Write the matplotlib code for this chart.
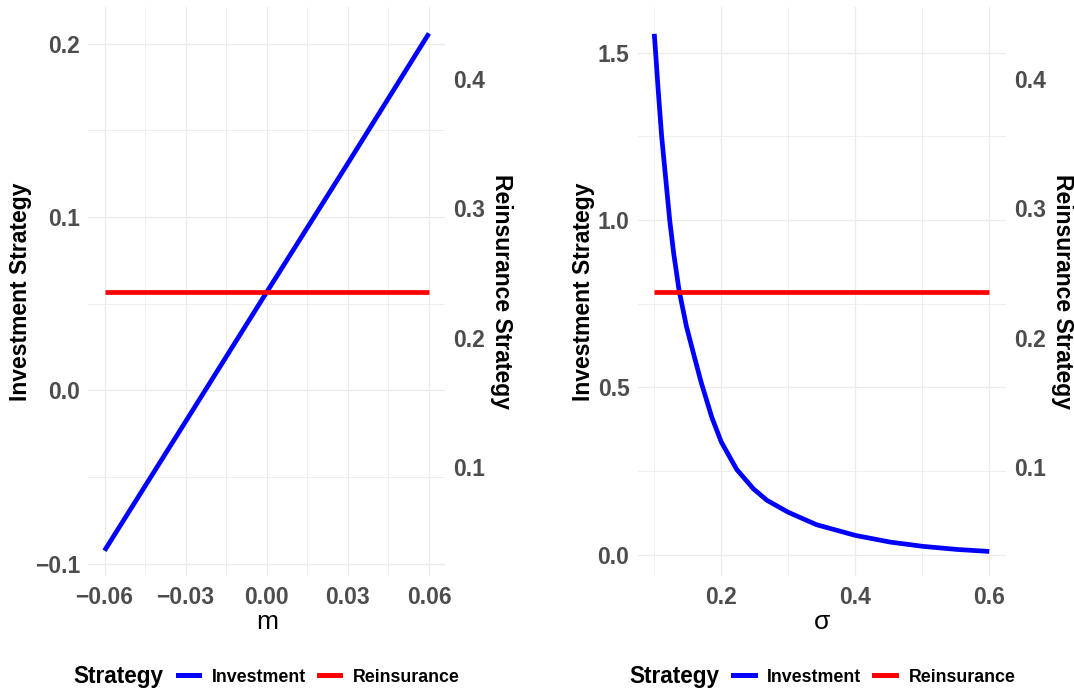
import matplotlib
matplotlib.use('Agg')
import matplotlib.pyplot as plt
from matplotlib.ticker import MultipleLocator
from matplotlib.lines import Line2D

plt.rcParams['font.family'] = ['Liberation Sans', 'DejaVu Sans']

# left panel: strategies against m
m_vals = [-0.06, -0.03, 0.0, 0.03, 0.06]
invest_m = [-0.0925, -0.018, 0.0567, 0.131, 0.206]
reins_m = [0.235, 0.235, 0.235, 0.235, 0.235]

# right panel: strategies against sigma
sigma_vals = [0.100, 0.102, 0.106, 0.111, 0.117, 0.123, 0.129, 0.137, 0.148, 0.160,
              0.170, 0.186, 0.200, 0.223, 0.248, 0.268, 0.300, 0.342, 0.400, 0.452,
              0.502, 0.552, 0.600]
invest_sigma = [1.556, 1.50, 1.384, 1.25, 1.125, 1.00, 0.90, 0.79, 0.682, 0.59,
                0.515, 0.41, 0.337, 0.255, 0.197, 0.163, 0.127, 0.090, 0.058, 0.038,
                0.025, 0.016, 0.010]
reins_sigma = [0.235] * len(sigma_vals)

BLUE = '#0000FF'
RED = '#FF0000'
TICK_COL = '#4D4D4D'
GRID_COL = '#EBEBEB'
LW = 3.4

fig = plt.figure(figsize=(10.74, 6.9), dpi=100)


def style_axes(ax, ax2, xlabel, xmajor, xminor, ymajor, yminor):
    for a in (ax, ax2):
        for s in a.spines.values():
            s.set_visible(False)
    ax.xaxis.set_major_locator(MultipleLocator(xmajor))
    ax.xaxis.set_minor_locator(MultipleLocator(xminor))
    ax.yaxis.set_major_locator(MultipleLocator(ymajor))
    ax.yaxis.set_minor_locator(MultipleLocator(yminor))
    ax.grid(which='major', color=GRID_COL, lw=0.9)
    ax.grid(which='minor', color=GRID_COL, lw=0.6)
    ax.set_axisbelow(True)
    ax.tick_params(which='both', length=0)
    ax.tick_params(axis='x', pad=6.5)
    ax.tick_params(axis='y', pad=5.8)
    ax2.tick_params(which='both', length=0, pad=5.6)
    for lab in ax.get_xticklabels() + ax.get_yticklabels() + ax2.get_yticklabels():
        lab.set_fontsize(16.5)
        lab.set_fontweight('bold')
        lab.set_color(TICK_COL)
    ax.set_xlabel(xlabel, fontsize=19, labelpad=1)
    ax.set_ylabel('Investment Strategy', fontsize=16.5, fontweight='bold', labelpad=1.8)
    ax2.set_ylabel('Reinsurance Strategy', fontsize=16.5, fontweight='bold',
                   rotation=-90, labelpad=20)
    ax2.set_ylim(0.0152, 0.4554)
    ax2.yaxis.set_major_locator(MultipleLocator(0.1))


# left panel
ax1 = fig.add_axes([0.0822, 0.1645, 0.3323, 0.8248])
ax1.plot(m_vals, invest_m, color=BLUE, lw=LW, solid_capstyle='butt')
ax1.set_xlim(-0.066, 0.066)
ax1.set_ylim(-0.1074, 0.221)
ax1b = ax1.twinx()
ax1b.plot(m_vals, reins_m, color=RED, lw=LW, solid_capstyle='butt')
ax1.xaxis.set_major_formatter(lambda v, p: f'{v:.2f}'.replace('-', '\u2212'))
ax1.yaxis.set_major_formatter(lambda v, p: f'{v:.1f}'.replace('-', '\u2212'))
ax1b.yaxis.set_major_formatter(lambda v, p: f'{v:.1f}')
style_axes(ax1, ax1b, 'm', 0.03, 0.015, 0.1, 0.05)

# right panel
ax2 = fig.add_axes([0.5936, 0.1645, 0.3431, 0.8248])
ax2.plot(sigma_vals, invest_sigma, color=BLUE, lw=LW, solid_capstyle='butt',
         solid_joinstyle='round')
ax2.set_xlim(0.075, 0.625)
ax2.set_ylim(-0.0648, 1.635)
ax2b = ax2.twinx()
ax2b.plot(sigma_vals, reins_sigma, color=RED, lw=LW, solid_capstyle='butt')
ax2.xaxis.set_major_formatter(lambda v, p: f'{v:.1f}')
ax2.yaxis.set_major_formatter(lambda v, p: f'{v:.1f}')
ax2b.yaxis.set_major_formatter(lambda v, p: f'{v:.1f}')
style_axes(ax2, ax2b, '\u03c3', 0.2, 0.1, 0.5, 0.25)

# legends under each panel
handles = [Line2D([], [], color=BLUE, lw=3.6), Line2D([], [], color=RED, lw=3.6)]
for x_title, x_leg in [(73, 177.6), (629.4, 733)]:
    fig.text(x_title / 1074, 13 / 690, 'Strategy', fontsize=16.3, fontweight='bold',
             va='center', ha='left')
    fig.legend(handles, ['Investment', 'Reinsurance'], ncol=2, frameon=False,
               loc='center left', bbox_to_anchor=(x_leg / 1074, 13 / 690),
               handlelength=1.22, handletextpad=0.71, columnspacing=0.71,
               borderpad=0, borderaxespad=0,
               prop={'size': 12.8, 'weight': 'bold'})

fig.savefig('out.png', dpi=100)
